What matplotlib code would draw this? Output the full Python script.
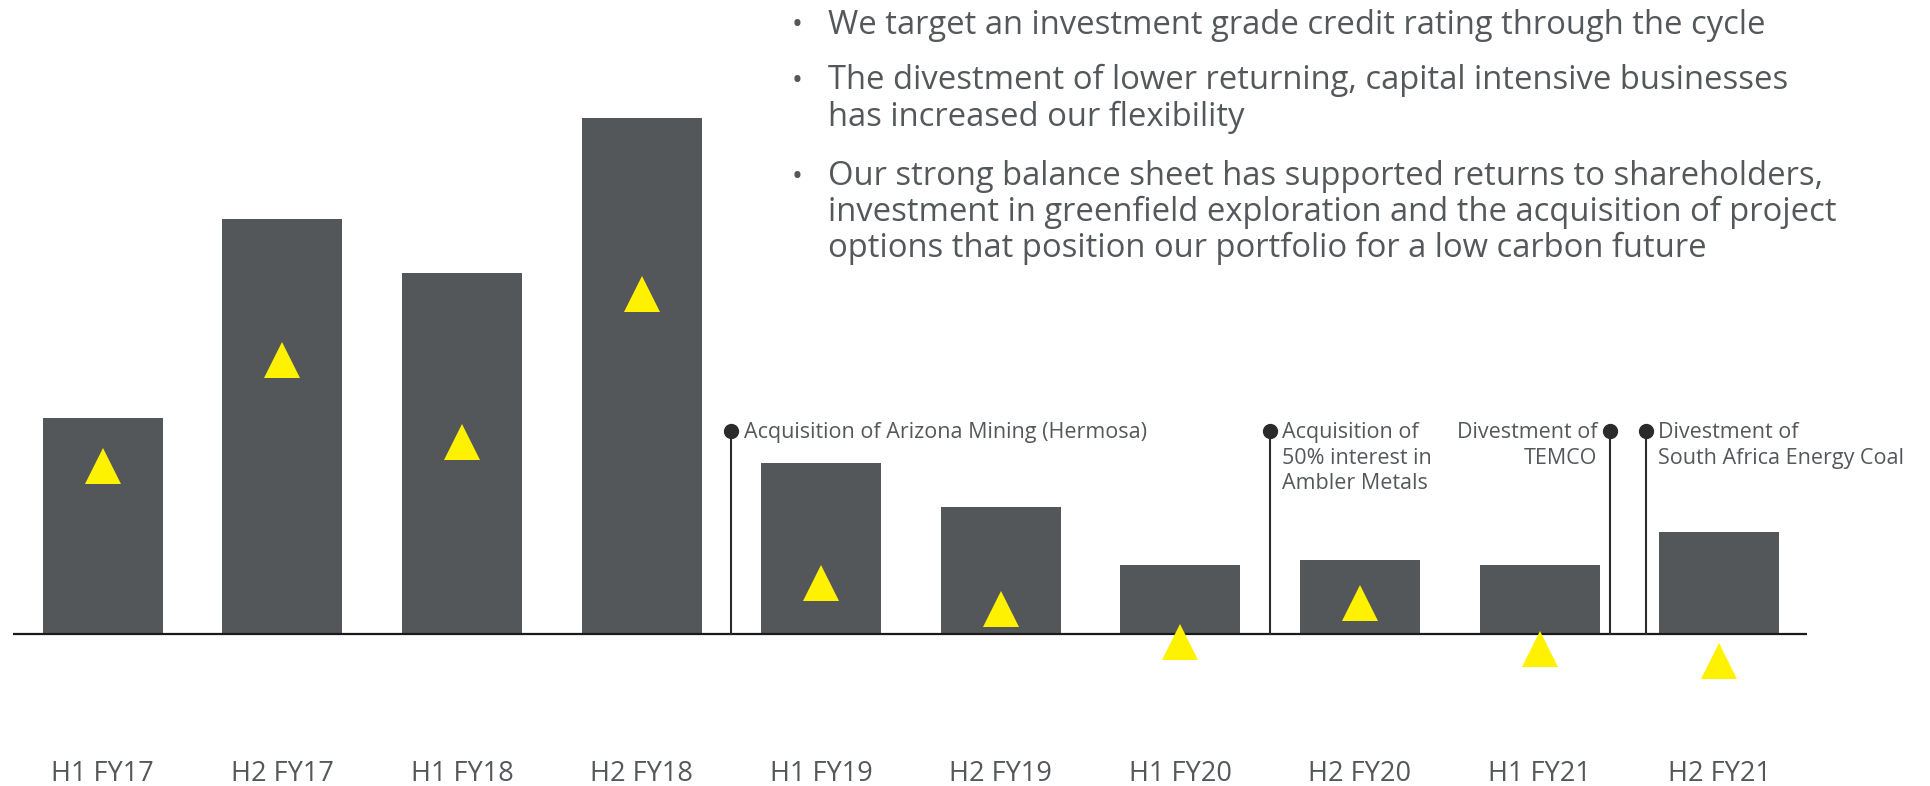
import matplotlib
matplotlib.use("Agg")
import matplotlib.pyplot as plt

# half-year periods
periods = ["H1 FY17", "H2 FY17", "H1 FY18", "H2 FY18", "H1 FY19",
           "H2 FY19", "H1 FY20", "H2 FY20", "H1 FY21", "H2 FY21"]
bar_values = [866, 1660, 1446, 2064, 684, 508, 278, 298, 276, 408]
triangle_values = [672, 1096, 770, 1360, 207, 100, -31, 127, -60, -107]

# portfolio events (position in period units)
event_x = [3.5, 6.5, 8.39, 8.59]
event_text = [
    ["Acquisition of Arizona Mining (Hermosa)"],
    ["Acquisition of", "50% interest in", "Ambler Metals"],
    ["Divestment of", "TEMCO"],
    ["Divestment of", "South Africa Energy Coal"],
]
event_side = ["left", "left", "right", "left"]

bullets = [
    ["We target an investment grade credit rating through the cycle"],
    ["The divestment of lower returning, capital intensive businesses",
     "has increased our flexibility"],
    ["Our strong balance sheet has supported returns to shareholders,",
     "investment in greenfield exploration and the acquisition of project",
     "options that position our portfolio for a low carbon future"],
]

plt.rcParams['font.family'] = ['Open Sans', 'DejaVu Sans']
bar_col = '#53575a'
text_col = '#54585b'
dark = '#2b2b2b'
yellow = '#fff200'

W, H = 1930, 786
fig = plt.figure(figsize=(W / 100, H / 100), dpi=100)
ax = fig.add_axes([0, 0, 1, 1])
ax.axis('off')
ax.set_xlim(-0.572, 10.174)
ax.set_ylim(-607, 2537)

x = list(range(len(periods)))
ax.bar(x, bar_values, width=0.668, color=bar_col, zorder=2)
ax.plot(x, triangle_values, linestyle='none', marker='^', markersize=26.5,
        color=yellow, markeredgewidth=0, zorder=4)

# baseline
ax.plot([-0.5, 9.49], [0, 0], color='#1a1a1a', lw=1.6, zorder=3,
        solid_capstyle='butt')

for xi, lab in zip(x, periods):
    ax.text(xi, -586, lab, ha='center', va='baseline', fontsize=19.5,
            color=text_col)

dot_y = 813
line_gap = 102
for ex, lines, side in zip(event_x, event_text, event_side):
    ax.plot([ex, ex], [0, dot_y], color=dark, lw=1.5, zorder=3)
    ax.plot([ex], [dot_y], marker='o', markersize=10, color=dark, zorder=5)
    off = 0.068 if side == 'left' else -0.068
    for i, ln in enumerate(lines):
        ax.text(ex + off, dot_y - 29 - i * line_gap, ln, ha=side,
                va='baseline', fontsize=15.5, color=text_col)

# bullet commentary (baselines in pixels from top)
baselines = [[33.5], [89, 126.5], [185, 221, 257]]
for para, ys in zip(bullets, baselines):
    fig.text(797 / W, 1 - ys[0] / H, "•", ha='center', va='baseline',
             fontsize=21, color=text_col)
    for ln, yp in zip(para, ys):
        fig.text(828 / W, 1 - yp / H, ln, ha='left', va='baseline',
                 fontsize=23.6, color=text_col)

fig.savefig('out.png', dpi=100)
